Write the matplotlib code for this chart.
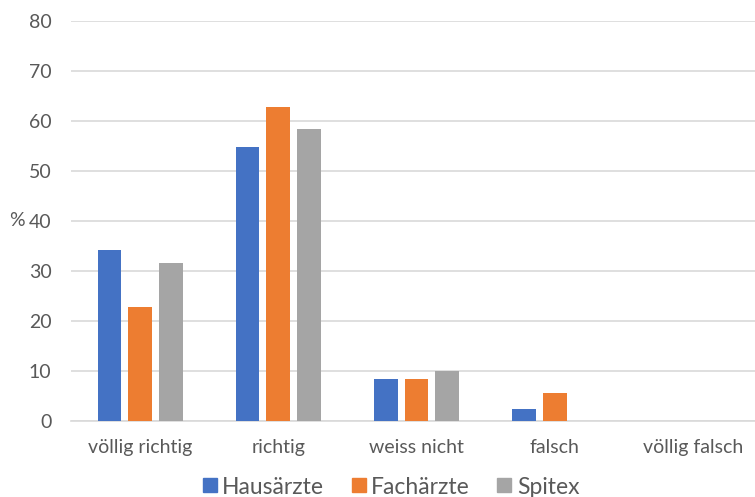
import numpy as np
import matplotlib.pyplot as plt
import matplotlib.transforms as mtransforms
from matplotlib.lines import Line2D

# ---------------------------------------------------------------------------
# Data
# ---------------------------------------------------------------------------

CATEGORIES = ["völlig richtig", "richtig", "weiss nicht", "falsch", "völlig falsch"]
HAUSAERZTE = [34.2, 54.9, 8.5, 2.4, 0]
FACHAERZTE = [22.8, 62.9, 8.5, 5.7, 0]
SPITEX     = [31.6, 58.4, 10.0, 0, 0]

SERIES = [
    ("Hausärzte", HAUSAERZTE, "#4472C4"),
    ("Fachärzte", FACHAERZTE, "#ED7D31"),
    ("Spitex",    SPITEX,     "#A5A5A5"),
]

plt.rcParams["font.family"] = ["Lato", "DejaVu Sans"]
TEXT_COLOR = "#595959"
GRID_COLOR = "#D9D9D9"

fig = plt.figure(figsize=(7.55, 4.97), dpi=100)
ax = fig.add_axes([71 / 755, 1 - 421 / 497, 1 - 71 / 755, 400 / 497])

x = np.arange(len(CATEGORIES))
width = 0.172
step = 0.222
for i, (name, vals, color) in enumerate(SERIES):
    ax.bar(x + (i - 1) * step, vals, width=width, color=color, zorder=3)

ax.set_ylim(0, 80)
ax.set_xlim(-0.5, 4.45)
ax.set_yticks(range(0, 81, 10))
ax.set_xticks(x)
ax.set_xticklabels(CATEGORIES)
ax.grid(axis="y", color=GRID_COLOR, linewidth=1.2, zorder=0)
for s in ["top", "right", "left"]:
    ax.spines[s].set_visible(False)
ax.spines["bottom"].set_color(GRID_COLOR)
ax.spines["bottom"].set_linewidth(1.2)
ax.tick_params(axis="both", length=0, labelsize=14, colors=TEXT_COLOR)
ax.tick_params(axis="y", pad=14)
ax.tick_params(axis="x", pad=13)

trans = mtransforms.blended_transform_factory(fig.transFigure, ax.transData)
ax.text(9 / 755, 40, "%", transform=trans,
        fontsize=14, color=TEXT_COLOR, ha="left", va="center")

handles = [Line2D([], [], marker="s", linestyle="none", markersize=10,
                  markerfacecolor=c, markeredgecolor=c) for _, _, c in SERIES]
fig.legend(handles, [n for n, _, _ in SERIES], loc="center", bbox_to_anchor=(0.515, 1 - 487 / 497),
           ncol=3, frameon=False, fontsize=16.5, handletextpad=0.05, columnspacing=1.0,
           handlelength=1.0, labelcolor=TEXT_COLOR)

fig.savefig("out.png", dpi=100)
